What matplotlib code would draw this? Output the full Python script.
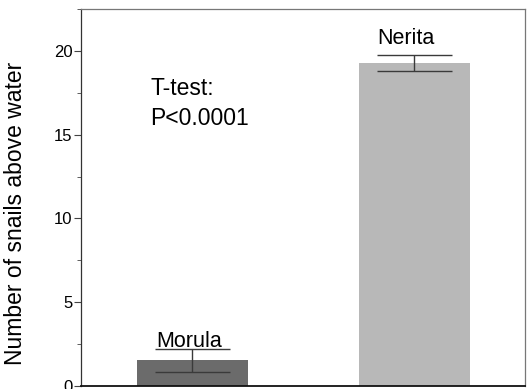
import matplotlib
matplotlib.use("Agg")
import matplotlib.pyplot as plt
from matplotlib.ticker import MultipleLocator

species = ["Morula", "Nerita"]
means = [1.53, 19.27]
errors = [0.70, 0.50]
colors = ["#6b6b6b", "#b8b8b8"]
yticks = [0, 5, 10, 15, 20]

plt.rcParams['font.family'] = ['Liberation Sans', 'DejaVu Sans']

fig = plt.figure(figsize=(5.29, 3.89), dpi=100)
ax = fig.add_axes([81/529, 3/389, 444/529, 377/389])

x = list(range(len(species)))
ax.bar(x, means, width=0.5, color=colors, edgecolor='none', zorder=2)
ax.errorbar(x, means, yerr=errors, fmt='none', ecolor='#3a3a3a', elinewidth=1.0,
            capsize=27, capthick=1.0, zorder=3)

# species labels
ax.text(x[0] - 0.012, means[0] + errors[0] + 0.1, species[0], ha='center',
        va='baseline', fontsize=15.5)
ax.text(x[1] - 0.037, means[1] + errors[1] + 0.66, species[1], ha='center',
        va='baseline', fontsize=15.5)

ax.text(-0.188, 17.37, "T-test:", ha='left', va='baseline', fontsize=16.5)
ax.text(-0.188, 15.58, "P<0.0001", ha='left', va='baseline', fontsize=16.5)

ax.set_xlim(-0.5, 1.5)
ax.set_ylim(0, 22.5)
ax.set_yticks(yticks)
ax.set_yticklabels([str(t) for t in yticks], fontsize=12)
ax.yaxis.set_minor_locator(MultipleLocator(2.5))
ax.set_xticks([])
ax.tick_params(axis='y', which='major', length=5, width=0.8, color='#444444', pad=1)
ax.tick_params(axis='y', which='minor', length=3, width=0.6, color='#444444')
ax.set_ylabel("Number of snails above water", fontsize=16.5)
ax.yaxis.set_label_coords(-0.122, 0.457)

for s in ['top', 'right']:
    ax.spines[s].set_color('#777777')
    ax.spines[s].set_linewidth(0.9)
ax.spines['left'].set_color('#333333')
ax.spines['left'].set_linewidth(0.9)
ax.spines['bottom'].set_color('#111111')
ax.spines['bottom'].set_linewidth(1.3)

fig.savefig("out.png", dpi=100)
